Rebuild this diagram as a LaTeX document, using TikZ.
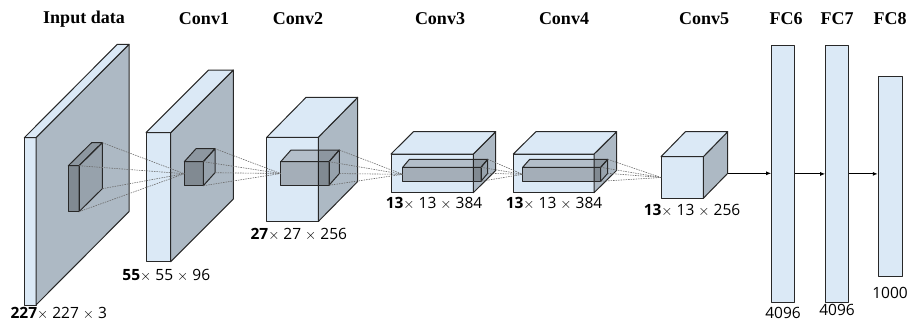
\documentclass[tikz,border=0pt]{standalone}
\usepackage{fontspec}
\setmainfont{Liberation Serif}
\newfontfamily\labelfont{Open Sans}
\usetikzlibrary{calc,arrows.meta}

\definecolor{faceblue}{RGB}{219,233,246}
\definecolor{facegray}{RGB}{173,185,196}
\definecolor{edgecol}{RGB}{40,40,40}

\tikzset{
  blockfront/.style={fill=faceblue,draw=edgecol,line width=1pt},
  blocktop/.style={fill=faceblue,draw=edgecol,line width=1pt},
  blockside/.style={fill=facegray,draw=edgecol,line width=1pt},
  innerfront/.style={fill=black,fill opacity=0.25,draw=edgecol,line width=1pt},
  innertop/.style={fill=black,fill opacity=0.18,draw=edgecol,line width=1pt},
  innerside/.style={fill=black,fill opacity=0.12,draw=edgecol,line width=1pt},
  fcbox/.style={fill=faceblue,draw=edgecol,line width=1pt,inner sep=0pt},
  conn/.style={draw=gray!85!black,line width=0.6pt,dash pattern=on 1.5pt off 1pt},
  arrow/.style={draw=black,line width=1pt,-{Latex[length=5pt,width=4pt]}},
  title/.style={font=\fontsize{18}{20}\selectfont\bfseries},
  dims/.style={font=\labelfont\fontsize{15.5}{18}\selectfont}
}

% #1 name, (#2,#3) front top left, (#4,#5) front bottom right, (#6,#7) depth, #8 block/inner
\newcommand{\cuboid}[8]{
  \coordinate (#1-ftl) at (#2,#3);
  \coordinate (#1-ftr) at (#4,#3);
  \coordinate (#1-fbr) at (#4,#5);
  \coordinate (#1-fbl) at (#2,#5);
  \coordinate (#1-btl) at ($(#1-ftl)+(#6,-#7)$);
  \coordinate (#1-btr) at ($(#1-ftr)+(#6,-#7)$);
  \coordinate (#1-bbr) at ($(#1-fbr)+(#6,-#7)$);
  \coordinate (#1-ml) at ($(#1-ftl)!0.5!(#1-fbl)$);
  \filldraw[#8front] (#1-ftl) -- (#1-ftr) -- (#1-fbr) -- (#1-fbl) -- cycle;
  \filldraw[#8side] (#1-ftr) -- (#1-btr) -- (#1-bbr) -- (#1-fbr) -- cycle;
  \filldraw[#8top] (#1-ftl) -- (#1-btl) -- (#1-btr) -- (#1-ftr) -- cycle;
}

\begin{document}
\begin{tikzpicture}[x=1pt,y=-1pt,line join=round]
\useasboundingbox (0,0) rectangle (912,322);

% feature maps
\cuboid{in}{24.3}{137.7}{36}{305}{93}{93.4}{block}
\cuboid{kin}{68.3}{165.7}{79}{211.7}{23.3}{23}{inner}
\cuboid{c1}{146}{132.7}{170.7}{261.7}{62.6}{62.7}{block}
\cuboid{k1}{184.3}{161.7}{203.3}{185.7}{11.7}{13}{inner}
\cuboid{c2}{266.7}{137.3}{318.3}{221.5}{39.4}{40}{block}
\cuboid{k2}{280.7}{161.7}{329}{185.3}{10.3}{11.7}{inner}
\cuboid{c3}{391}{154}{473.3}{192.7}{22.4}{22.3}{block}
\cuboid{k3}{402.7}{167.3}{481}{181.3}{6.7}{8}{inner}
\cuboid{c4}{513.3}{154}{594}{192.7}{22.6}{22.3}{block}
\cuboid{k4}{522.7}{167.3}{600.7}{181.3}{7}{8}{inner}
\cuboid{c5}{661}{156.7}{703.3}{198.3}{24.4}{25}{block}

% receptive fields
\foreach \src/\dst in {kin/k1,k1/k2,k2/k3,k3/k4,k4/c5}{
  \draw[conn] (\src-ftr) -- (\dst-ml);
  \draw[conn] (\src-btr) -- (\dst-ml);
  \draw[conn] (\src-bbr) -- (\dst-ml);
  \draw[conn] (\src-fbr) -- (\dst-ml);
}

% fully connected layers
\node[fcbox,minimum width=22.6pt,minimum height=257.7pt] (fc6) at (783,173.9) {};
\node[fcbox,minimum width=22.6pt,minimum height=257.7pt] (fc7) at (837,173.9) {};
\node[fcbox,minimum width=24pt,minimum height=200pt] (fc8) at (890.3,176) {};
\draw[arrow] (c5-bbr) -- (c5-bbr -| fc6.west);
\draw[arrow] (fc6.east) -- (fc7.west);
\draw[arrow] (fc7.east) -- (fc7.east -| fc8.west);

% titles
\node[title] (t-in) at (84,19) {Input data};
\node[title] (t-c1) at (204,19) {Conv1};
\node[title] (t-c2) at (298,19) {Conv2};
\node[title] (t-c3) at (440,19) {Conv3};
\node[title] (t-c4) at (564,19) {Conv4};
\node[title] (t-c5) at (704,19) {Conv5};
\node[title] (t-fc6) at (786,19) {FC6};
\node[title] (t-fc7) at (837,19) {FC7};
\node[title] (t-fc8) at (890,19) {FC8};

% sizes
\node[dims] (d-in) at (58.8,313) {\textbf{227}$\times$ 227 $\times$ 3};
\node[dims] (d-c1) at (166.3,275) {\textbf{55}$\times$ 55 $\times$ 96};
\node[dims] (d-c2) at (298.8,234.7) {\textbf{27}$\times$ 27 $\times$ 256};
\node[dims] (d-c3) at (434,203.3) {\textbf{13}$\times$ 13 $\times$ 384};
\node[dims] (d-c4) at (554,203.3) {\textbf{13}$\times$ 13 $\times$ 384};
\node[dims] (d-c5) at (692,210) {\textbf{13}$\times$ 13 $\times$ 256};
\node[dims] (d-fc6) at (783,313) {4096};
\node[dims] (d-fc7) at (837,310) {4096};
\node[dims] (d-fc8) at (890,293) {1000};
\end{tikzpicture}
\end{document}
